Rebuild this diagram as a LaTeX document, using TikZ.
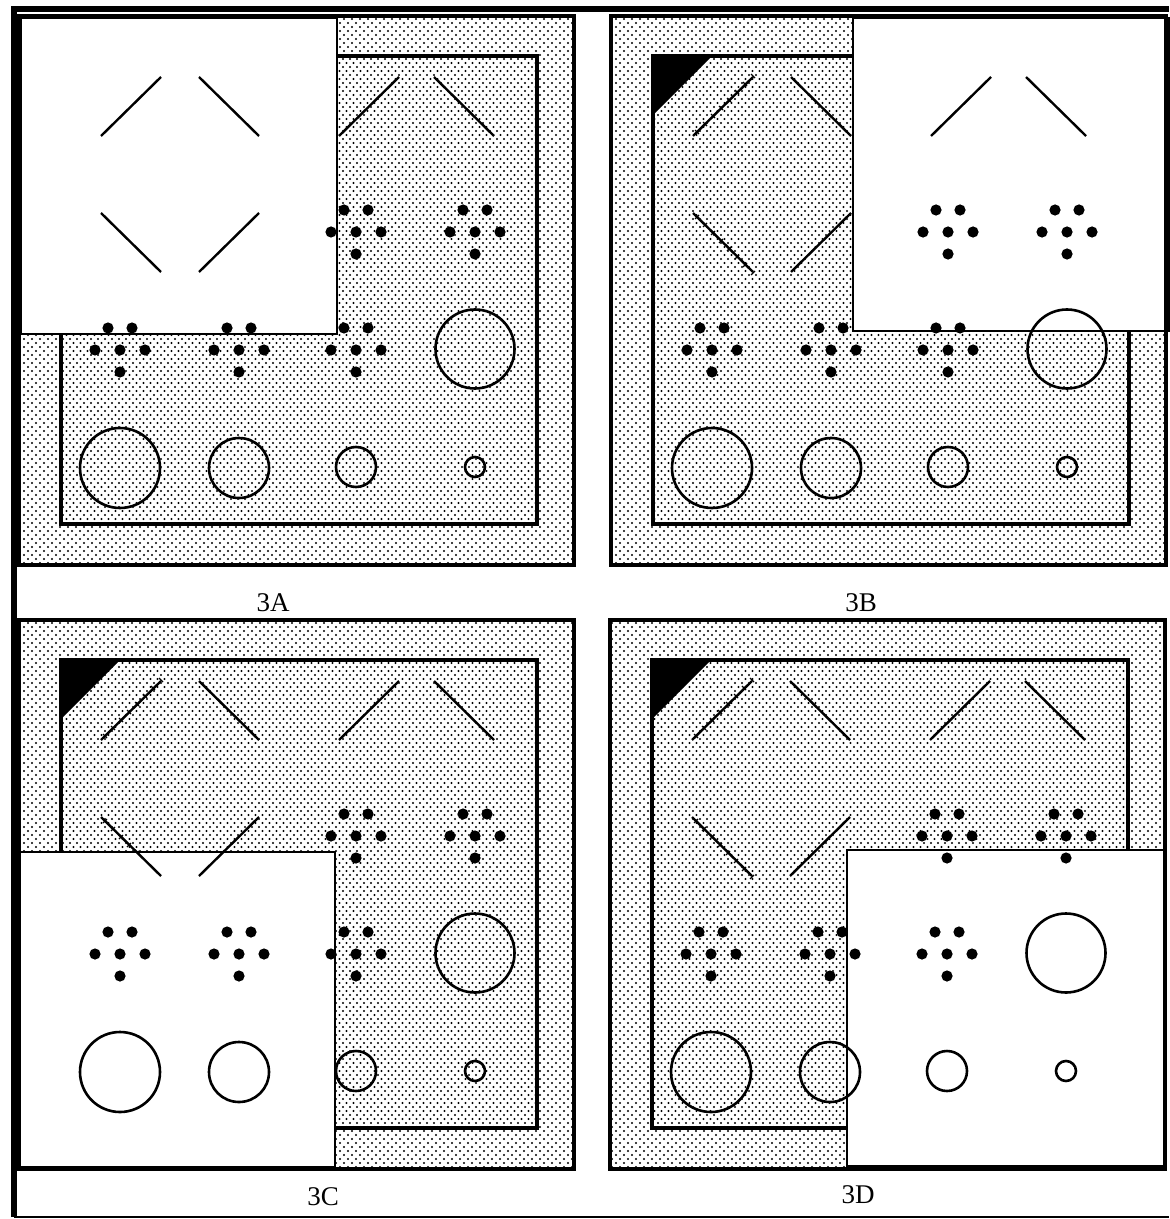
\documentclass[tikz,border=0pt]{standalone}
\usepackage{fontspec}
\setmainfont{Liberation Serif}
\usepackage{tikz}
\usetikzlibrary{patterns}

% halftone fills of the band and of the inner room
\pgfdeclarepatternformonly{banddots}{\pgfqpoint{-0.7pt}{-0.7pt}}{\pgfqpoint{2.7pt}{2.7pt}}{\pgfqpoint{4pt}{4pt}}{%
  \pgfpathcircle{\pgfpointorigin}{0.55pt}\pgfpathcircle{\pgfqpoint{2pt}{2pt}}{0.55pt}\pgfusepath{fill}}
\pgfdeclarepatternformonly{innerdots}{\pgfqpoint{-0.7pt}{-0.7pt}}{\pgfqpoint{2.5pt}{2.7pt}}{\pgfqpoint{3.5pt}{4pt}}{%
  \pgfpathcircle{\pgfpointorigin}{0.55pt}\pgfpathcircle{\pgfqpoint{1.75pt}{2pt}}{0.55pt}\pgfusepath{fill}}

\newcommand{\dotcluster}[2]{%
  \foreach \dx/\dy in {-12/-22,12/-22,-25/0,0/0,25/0,0/22}
    \fill[shift={(#1,#2)}] (\dx,\dy) circle[radius=2.8pt];}

% #1,#2 = panel origin, #3,#4 = corners of the white cover
\newcommand{\roomlayout}[4]{%
  \begin{scope}[shift={(#1,#2)}]
    \draw[framebox, preaction={fill=white}, pattern=banddots] (0,0) rectangle (555,549);
    \draw[innerbox, preaction={fill=white}, pattern=innerdots] (42,40) rectangle (518,508);
    \fill (42,40) -- (101,40) -- (42,99) -- cycle;
    \foreach \s in {4,12,...,60} {
      \draw[tickline] (80+\s,118-\s) -- ++(4,4);
      \draw[tickline] (80+\s,199+\s) -- ++(4,-4);
    }
    \draw[coverbox] (#3) rectangle (#4);
    \draw[framebox] (0,0) rectangle (555,549);
    \draw[markline] (82,120) -- (142,61) (180,61) -- (240,120)
      (82,197) -- (142,256) (180,256) -- (240,197)
      (320,120) -- (380,61) (415,61) -- (475,120);
    \dotcluster{337}{216}
    \dotcluster{456}{216}
    \dotcluster{101}{334}
    \dotcluster{220}{334}
    \dotcluster{337}{334}
    \draw[ringline] (456,333) circle[radius=19.75pt];
    \draw[ringline] (101,452) circle[radius=20pt];
    \draw[ringline] (220,452) circle[radius=15pt];
    \draw[ringline] (337,451) circle[radius=10pt];
    \draw[ringline] (456,451) circle[radius=5pt];
  \end{scope}}

\begin{document}
\begin{tikzpicture}[x=0.5pt, y=-0.5pt,
  framebox/.style={draw=black, line width=1.9pt},
  innerbox/.style={draw=black, line width=2.2pt},
  coverbox/.style={draw=black, fill=white, line width=0.9pt},
  markline/.style={line width=1.2pt},
  tickline/.style={line width=0.6pt},
  ringline/.style={line width=1.3pt},
  outerline/.style={line width=3pt},
  caption/.style={font=\fontsize{13.5}{16}\selectfont, inner sep=0pt}
]
  \useasboundingbox (0,0) rectangle (1169,1219);

  \roomlayout{19}{16}{2,2}{318,318}
  \roomlayout{611}{16}{242,2}{558,315}
  \roomlayout{19}{620}{1,232}{316,547}
  \roomlayout{610}{620}{237,230}{555,546}

  % outer border
  \draw[outerline] (1169,9) -- (14,9) -- (14,1217);
  \draw[line width=1pt] (14,1217) -- (1169,1217);

  \node[caption] (capA) at (273,603) {3A};
  \node[caption] (capB) at (861,603) {3B};
  \node[caption] (capC) at (323,1197) {3C};
  \node[caption] (capD) at (858,1195) {3D};
\end{tikzpicture}
\end{document}
